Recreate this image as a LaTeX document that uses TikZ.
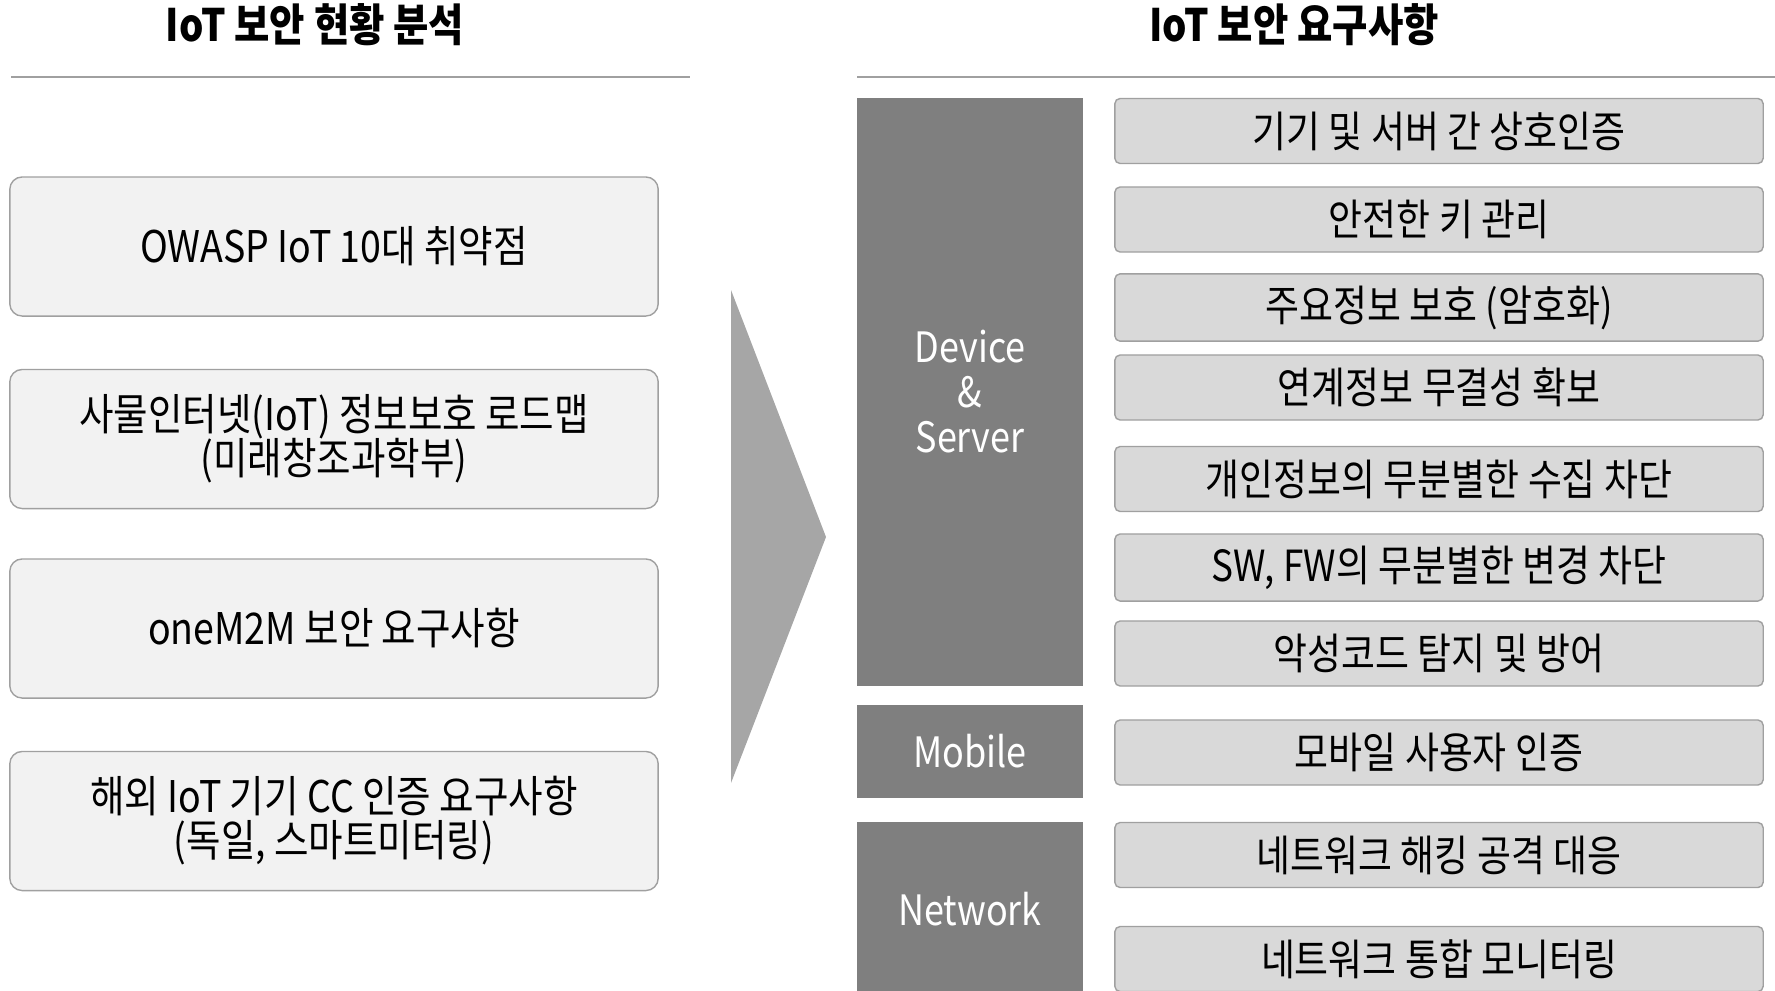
\documentclass[tikz,border=0pt]{standalone}
\usepackage{fontspec}
\setmainfont{Noto Sans CJK KR}[FakeStretch=0.86]
\usetikzlibrary{positioning}

\definecolor{boxgray}{HTML}{F2F2F2}
\definecolor{reqgray}{HTML}{D9D9D9}
\definecolor{catgray}{HTML}{7F7F7F}
\definecolor{arrowgray}{HTML}{A6A6A6}
\definecolor{linegray}{HTML}{A0A0A0}
\newcommand\tightlines{\lineskiplimit=-10pt\relax\lineskip=0pt\relax}

\begin{document}
\begin{tikzpicture}[x=0.01cm, y=-0.01cm,
  title/.style={font=\fontsize{12.7}{14}\selectfont\bfseries},
  srcbox/.style={draw=linegray, fill=boxgray, rounded corners=3.5pt, minimum width=6.48cm,
    minimum height=1.39cm, align=center,
    font=\fontsize{12.4}{12.5}\selectfont\tightlines},
  catbox/.style={fill=catgray, text=white, minimum width=2.26cm, align=center,
    font=\fontsize{11.9}{12.8}\selectfont},
  reqbox/.style={draw=linegray, fill=reqgray, rounded corners=1.5pt, minimum width=6.48cm,
    minimum height=0.65cm, font=\fontsize{12.2}{12.5}\selectfont}]
  \useasboundingbox (0,0) rectangle (1775,990);

  % headings
  \node[title] (lefttitle) at (315,25) {IoT 보안 현황 분석};
  \node[title] (righttitle) at (1294,25) {IoT 보안 요구사항};
  \draw[linegray] (11,77) -- (690,77);
  \draw[linegray] (857,77) -- (1775,77);

  % current state
  \node[srcbox] (owasp) at (334,246.5) {OWASP IoT 10대 취약점};
  \node[srcbox] (roadmap) at (334,439) {사물인터넷(IoT) 정보보호 로드맵\\(미래창조과학부)};
  \node[srcbox] (onem2m) at (334,628.5) {oneM2M 보안 요구사항};
  \node[srcbox] (cc) at (334,821) {해외 IoT 기기 CC 인증 요구사항\\(독일, 스마트미터링)};

  \fill[arrowgray] (731,290) -- (826,537) -- (731,783) -- cycle;

  % requirements
  \node[catbox, minimum height=5.88cm] (device) at (970,392) {Device\\\&\\Server};
  \node[catbox, minimum height=0.93cm] (mobile) at (970,751.5) {Mobile};
  \node[catbox, minimum height=1.74cm] (network) at (970,909) {Network};

  \foreach \y/\t [count=\i] in {131/{기기 및 서버 간 상호인증}, 219.5/{안전한 키 관리},
      307.5/{주요정보 보호 (암호화)}, 387.5/{연계정보 무결성 확보},
      479/{개인정보의 무분별한 수집 차단}, 567.5/{SW, FW의 무분별한 변경 차단},
      653.5/{악성코드 탐지 및 방어}, 752.5/{모바일 사용자 인증},
      855/{네트워크 해킹 공격 대응}, 959/{네트워크 통합 모니터링}}
    \node[reqbox] (req\i) at (1439,\y) {\t};
\end{tikzpicture}
\end{document}
